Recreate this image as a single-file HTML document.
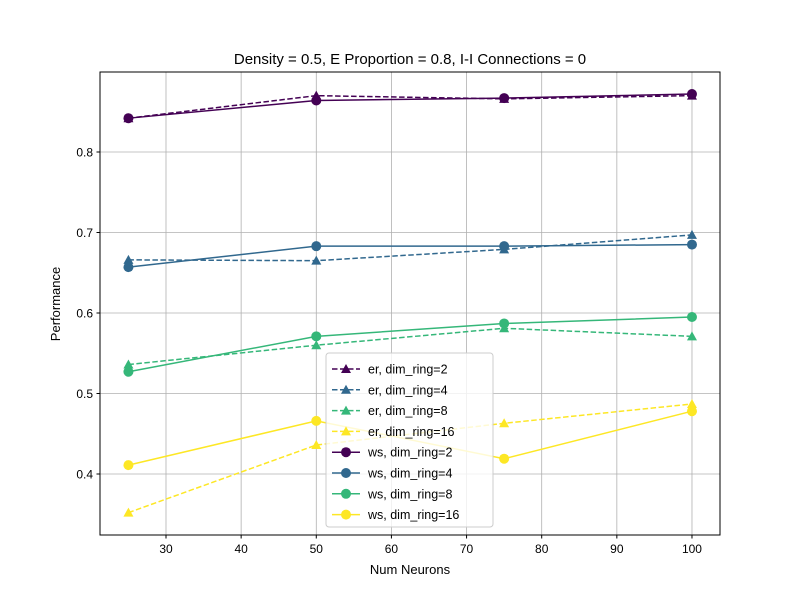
<!DOCTYPE html>
<html><head><meta charset="utf-8">
<style>
body{margin:0;background:#fff;}
svg{display:block;font-family:"Liberation Sans","DejaVu Sans",sans-serif;}
</style></head>
<body>
<svg id="chart" width="800" height="600" xmlns="http://www.w3.org/2000/svg">
<rect width="800" height="600" fill="#fff"/>
<text x="410" y="64" text-anchor="middle" font-size="15">Density = 0.5, E Proportion = 0.8, I-I Connections = 0</text>
<g id="grid"></g>
<g id="series"></g>
<rect x="100" y="72" width="620" height="463" fill="none" stroke="#000" stroke-width="1"/>
<g id="ticks"></g>
<text x="410" y="574" text-anchor="middle" font-size="13">Num Neurons</text>
<text transform="translate(60,304) rotate(-90)" text-anchor="middle" font-size="13">Performance</text>
<g id="legend"></g>
</svg>
<script>
const xValues=[25,50,75,100];
const xTicks=[30,40,50,60,70,80,90,100];
const yTicks=[0.4,0.5,0.6,0.7,0.8];
const seriesLabels=["er, dim_ring=2","er, dim_ring=4","er, dim_ring=8","er, dim_ring=16","ws, dim_ring=2","ws, dim_ring=4","ws, dim_ring=8","ws, dim_ring=16"];
const er2=[0.842,0.870,0.866,0.870];
const er4=[0.666,0.665,0.679,0.697];
const er8=[0.536,0.560,0.581,0.571];
const er16=[0.352,0.436,0.463,0.487];
const ws2=[0.842,0.864,0.867,0.872];
const ws4=[0.657,0.683,0.683,0.685];
const ws8=[0.527,0.571,0.587,0.595];
const ws16=[0.411,0.466,0.419,0.478];
const seriesValues=[er2,er4,er8,er16,ws2,ws4,ws8,ws16];
const colors=["#440154","#31688e","#35b779","#fde725","#440154","#31688e","#35b779","#fde725"];
const NS="http://www.w3.org/2000/svg";
function X(v){return 166+(v-30)*7.514;}
function Y(v){return 152+(0.8-v)*805;}
function mk(tag,attrs,parent){const e=document.createElementNS(NS,tag);for(const k in attrs)e.setAttribute(k,attrs[k]);parent.appendChild(e);return e;}
const grid=document.getElementById('grid'),ticks=document.getElementById('ticks'),ser=document.getElementById('series'),leg=document.getElementById('legend');
xTicks.forEach(t=>{const x=X(t);
 const g=mk('line',{x1:x,x2:x,y1:72,y2:535,stroke:'#b0b0b0','stroke-width':0.8},grid);
 
 
 mk('line',{x1:x,x2:x,y1:535,y2:538.5,stroke:'#000'},ticks);
 const l=mk('text',{x:x,y:553,'text-anchor':'middle','font-size':12},ticks);l.textContent=t;
 
 
});
yTicks.forEach(t=>{const y=Y(t);
 const g=mk('line',{x1:100,x2:720,y1:y,y2:y,stroke:'#b0b0b0','stroke-width':0.8},grid);
 
 
 mk('line',{x1:96.5,x2:100,y1:y,y2:y,stroke:'#000'},ticks);
 const l=mk('text',{x:93,y:y+4.5,'text-anchor':'end','font-size':12},ticks);l.textContent=t.toFixed(1);
 
 
});
function marker(parent,x,y,tri,c){
 if(tri) return mk('polygon',{points:`${x},${y-5} ${x-5},${y+4} ${x+5},${y+4}`,fill:c},parent);
 return mk('circle',{cx:x,cy:y,r:5,fill:c},parent);
}
seriesValues.forEach((vals,i)=>{
 const tri=i<4,c=colors[i];
 const g=mk('g',{},ser);
 
 
 const pts=vals.map((v,j)=>X(xValues[j])+','+Y(v)).join(' ');
 const attrs={points:pts,fill:'none',stroke:c,'stroke-width':1.5};
 if(tri)attrs['stroke-dasharray']='5.5,2.5';
 mk('polyline',attrs,g);
 vals.forEach((v,j)=>{const m=marker(g,X(xValues[j]),Y(v),tri,c);
  
  });
});
const box=mk('rect',{x:326,y:353,width:167,height:174,rx:3,fill:'#fff','fill-opacity':0.8,stroke:'#ccc'},leg);


seriesLabels.forEach((lab,i)=>{
 const y=369+i*20.8,tri=i<4,c=colors[i];
 const g=mk('g',{},leg);
 
 
 const a={x1:332,x2:360,y1:y,y2:y,stroke:c,'stroke-width':1.5};
 if(tri)a['stroke-dasharray']='5.5,2.5';
 mk('line',a,g);
 marker(g,346,y,tri,c);
 const t=mk('text',{x:368,y:y+4.5,'font-size':12.5},g);t.textContent=lab;
});
</script>
</body></html>
